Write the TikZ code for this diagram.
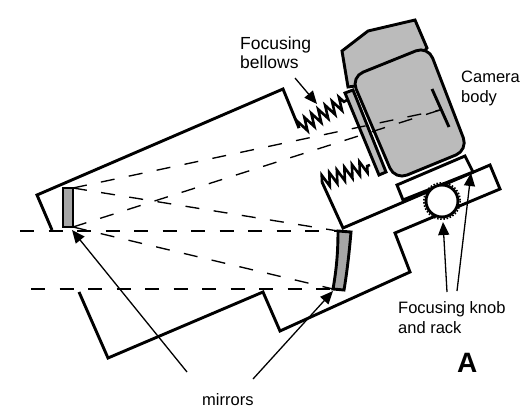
\documentclass[tikz,border=0pt]{standalone}
\usepackage{fontspec}
\setmainfont{Liberation Sans}
\usetikzlibrary{arrows.meta,decorations.pathmorphing}
\tikzset{
  x=1pt,y=-1pt,
  thick line/.style={line width=2.9pt,line join=miter,black},
  springline/.style={line width=2.6pt,decorate,decoration={zigzag,segment length=8pt,amplitude=6.5pt}},
  ray/.style={line width=1.35pt,dash pattern=on 14pt off 14.5pt},
  pointer/.style={line width=1.3pt,-{Triangle[length=13pt,width=11pt]}},
  label/.style={font=\fontsize{16.5}{20}\selectfont,align=left,inner sep=0pt,anchor=base west},
  biglabel/.style={font=\fontsize{17.5}{20}\selectfont,align=left,inner sep=0pt,anchor=base west},
  graypart/.style={thick line,fill=bodygray},
}
\definecolor{bodygray}{HTML}{BBBBBB}
\definecolor{mirrorgray}{HTML}{A6A6A6}
\begin{document}
\begin{tikzpicture}
\useasboundingbox (0,0) rectangle (531,415);
% named points
\coordinate (sA) at (299,128); \coordinate (sB) at (347,100);
\coordinate (sC) at (322,182); \coordinate (sD) at (370,165);
\coordinate (mTop) at (73,188); \coordinate (mBot) at (73,227);
\coordinate (bigTop) at (338,231); \coordinate (bigBot) at (333,289);
\coordinate (film) at (440,110);
\coordinate (hA) at (20,231); \coordinate (hB) at (31,289);
% tube
\draw[thick line] (52,230) -- (37,195) -- (283,89) -- (sA);
\draw[thick line] (sC) -- (343,228) -- (490,165) -- (500,189) -- (395,233) -- (410,272) -- (280,331) -- (263,292) -- (108,358) -- (79,292);
% springs
\draw[springline] (sA) -- (sB);
\draw[springline] (sC) -- (sD);
% rack
\draw[thick line,fill=white] (397,185) -- (465,156) -- (473,172) -- (403,200) -- cycle;
% knob
\node[circle,draw,line width=2.9pt,fill=white,minimum size=32pt,inner sep=0pt] (knob) at (442,201) {};
\draw[line width=1.6pt,dash pattern=on 1.5pt off 1.7pt] (knob.center) circle[radius=18.2];
% camera
\draw[graypart] (342,51) -- (368,31) -- (415,20) -- (427,48) -- (400,80) -- (348,87) -- cycle;
\draw[graypart,fill=bodygray] (345,93) -- (353,90) -- (386,172) -- (379,175) -- cycle;
\draw[graypart,rounded corners=13pt] (351,77) -- (428,46) -- (468,150) -- (395,180) -- cycle;
\coordinate (filmA) at (432,89); \coordinate (filmB) at (449,127);
\draw[thick line] (filmA) -- (filmB);
% mirrors
\draw[thick line,fill=mirrorgray] (63,188) rectangle (73,227);
\draw[thick line,fill=mirrorgray] (bigTop) -- (351,232) .. controls (349,255) and (347,272) .. (344,290) -- (bigBot) .. controls (336,272) and (338,255) .. cycle;
% rays
\draw[ray] (hA) -- (bigTop);
\draw[ray] (hB) -- (bigBot);
\draw[ray] (mTop) -- (bigTop);
\draw[ray] (mBot) -- (bigBot);
\draw[ray] (mTop) -- (film);
\draw[ray] (mBot) -- (film);
% labels
\node[biglabel] (lbFoc) at (240,49) {Focusing};
\node[biglabel] (lbBel) at (240,68) {bellows};
\node[label] (lbCam) at (461,82) {Camera};
\node[label] (lbBod) at (461,102) {body};
\node[label] (lbKnob) at (398,313) {Focusing knob};
\node[label] (lbRack) at (398,333) {and rack};
\node[label] (lbMir) at (202,405) {mirrors};
\node[inner sep=0pt,anchor=base west,font=\fontsize{28}{30}\selectfont\bfseries] (lbA) at (457,372) {A};
% pointers
\coordinate (pA0) at (295,78); \coordinate (pA1) at (317,104);
\draw[pointer] (pA0) -- (pA1);
\coordinate (pB0) at (447,292); \coordinate (pB1) at (443,222);
\draw[pointer] (pB0) -- (pB1);
\coordinate (pC0) at (457,291); \coordinate (pC1) at (471,173);
\draw[pointer] (pC0) -- (pC1);
\coordinate (pD0) at (187,372); \coordinate (pD1) at (72,230);
\draw[pointer] (pD0) -- (pD1);
\coordinate (pE0) at (253,379); \coordinate (pE1) at (333,291);
\draw[pointer] (pE0) -- (pE1);
\end{tikzpicture}
\end{document}
